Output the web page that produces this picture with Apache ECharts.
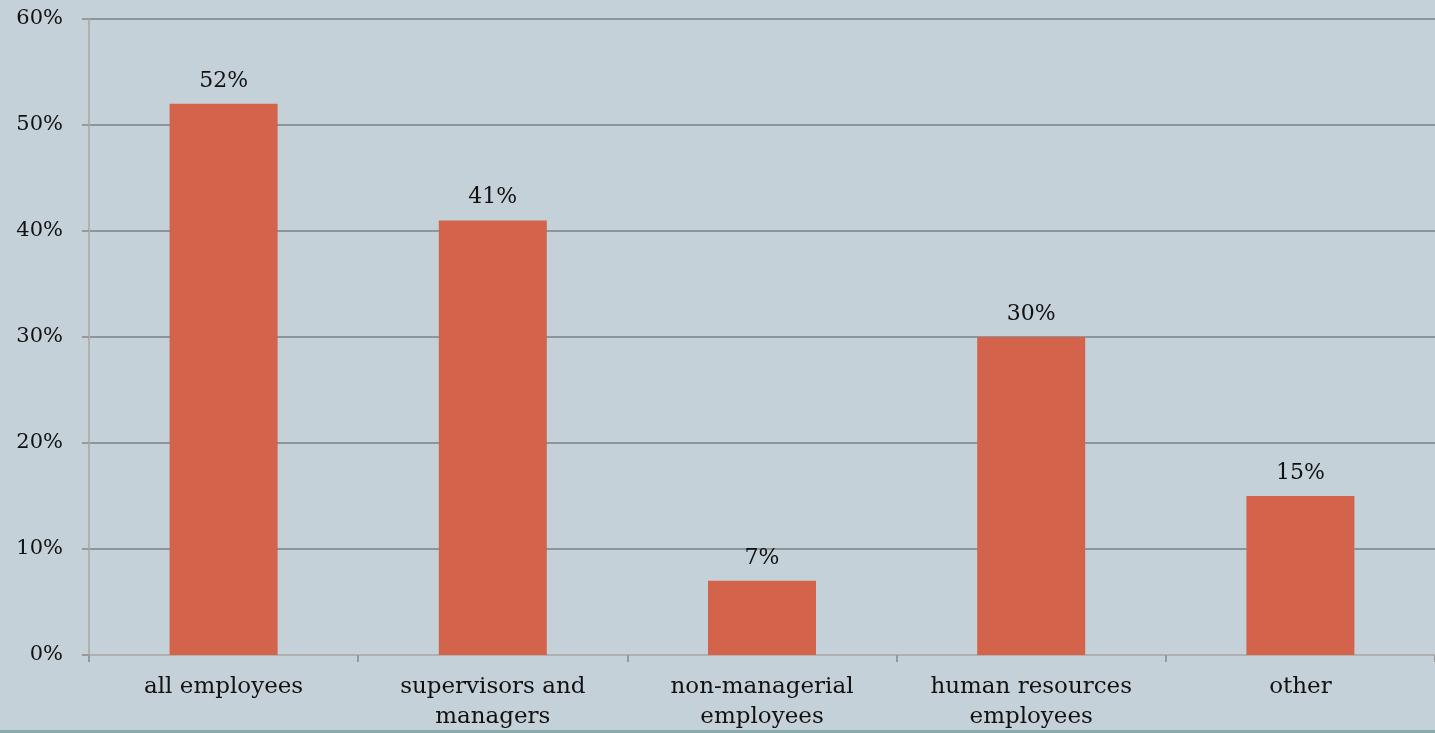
<!DOCTYPE html>
<html><head><meta charset="utf-8">
<script src="https://cdn.jsdelivr.net/npm/echarts@6/dist/echarts.min.js"></script>
<style>html,body{margin:0;padding:0;background:#c5d1d8;}#c{width:1435px;height:733px;}
#bar{position:absolute;left:0;top:730px;width:1435px;height:3px;background:#88acac;}</style>
</head><body><div id="c"></div><div id="bar"></div>
<script>
const categories = ['all employees', 'supervisors and\nmanagers', 'non-managerial\nemployees', 'human resources\nemployees', 'other'];
const values = [52, 41, 7, 30, 15];
const yTicks = [0, 10, 20, 30, 40, 50, 60];
const font = 'DejaVu Serif';
const chart = echarts.init(document.getElementById('c'));
chart.setOption({
  backgroundColor: '#c5d1d8',
  animation: false,
  grid: {left: 89, right: -3, top: 19, bottom: 78},
  xAxis: {
    type: 'category', data: categories,
    axisLine: {lineStyle: {color: '#b0b0b0', width: 2}},
    axisTick: {show: true, length: 7, lineStyle: {color: '#999', width: 2}},
    axisLabel: {color: '#111', fontFamily: font, fontSize: 23, lineHeight: 30, margin: 17}
  },
  yAxis: {
    type: 'value', min: 0, max: 60, interval: 10,
    axisLine: {show: true, lineStyle: {color: '#b0b0b0', width: 2}},
    axisTick: {show: true, length: 7, lineStyle: {color: '#999', width: 2}},
    splitLine: {lineStyle: {color: '#8c959b', width: 2}},
    axisLabel: {color: '#111', fontFamily: font, fontSize: 21, margin: 26,
      formatter: v => yTicks.includes(v) ? v + '%' : ''}
  },
  series: [{
    type: 'bar', data: values, barWidth: 108,
    itemStyle: {color: '#d3634a'},
    label: {show: true, position: 'top', distance: 12, color: '#111', fontFamily: font, fontSize: 22,
      formatter: p => p.value + '%'}
  }]
});
</script></body></html>
